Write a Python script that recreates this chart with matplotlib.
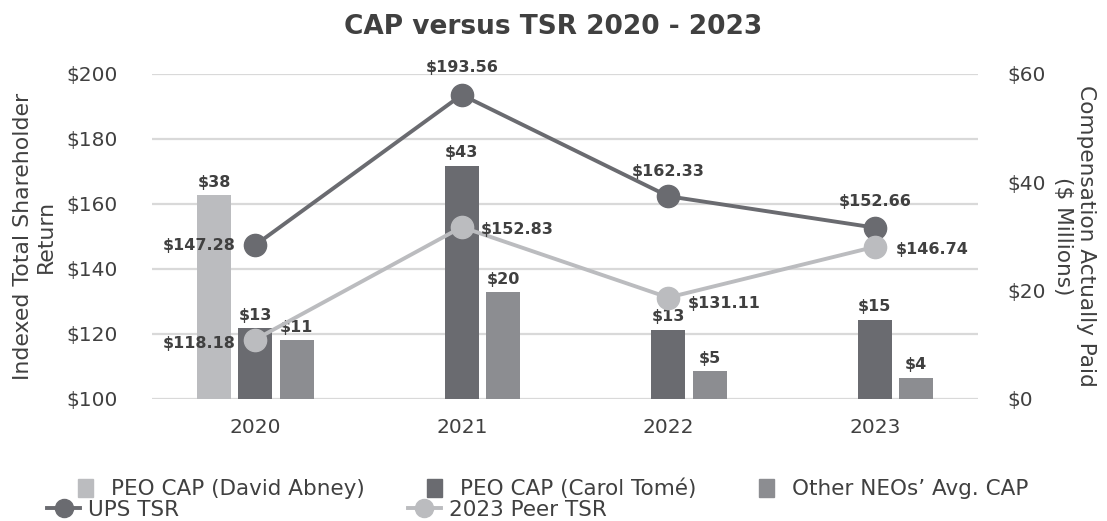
import numpy as np
import matplotlib.pyplot as plt
from matplotlib.patches import Patch
from matplotlib.lines import Line2D

# ---- data ----
years = ["2020", "2021", "2022", "2023"]
ups_tsr = [147.28, 193.56, 162.33, 152.66]
peer_tsr = [118.18, 152.83, 131.11, 146.74]
cap_abney = [37.6, np.nan, np.nan, np.nan]
cap_tome = [13.0, 43.0, 12.7, 14.6]
cap_neos = [10.8, 19.6, 5.0, 3.8]

# ---- style ----
TEXT = "#404040"
C_LIGHT = "#bbbcbf"
C_DARK = "#6a6b70"
C_MID = "#8c8d91"
C_GRID = "#d9d9d9"

plt.rcParams["font.family"] = ["DejaVu Sans"]
plt.rcParams["text.color"] = TEXT

fig = plt.figure(figsize=(11.07, 5.21), dpi=100)
ax = fig.add_axes([0.1373, 0.2351, 0.7462, 0.6229])
ax2 = ax.twinx()

x = np.arange(len(years))
width = 0.165
offsets = [-0.2, 0.0, 0.2]

# ---- bars (right axis) ----
for vals, off, col in zip([cap_abney, cap_tome, cap_neos], offsets, [C_LIGHT, C_DARK, C_MID]):
    vals = np.array(vals, dtype=float)
    m = ~np.isnan(vals)
    bars = ax2.bar(x[m] + off, vals[m], width=width, color=col, zorder=2)
    ax2.bar_label(bars, labels=[f"${v:.0f}" for v in vals[m]], padding=4,
                  fontsize=11.5, fontweight="bold", color=TEXT)

ax2.set_ylim(0, 60)
ax2.set_yticks([0, 20, 40, 60])
ax2.set_yticklabels([f"${v}" for v in [0, 20, 40, 60]])

# gridlines behind the bars
for gv in np.linspace(0, 60, 6):
    ax2.axhline(gv, color=C_GRID, lw=1.6, zorder=0)

# ---- lines (left axis) drawn on top ----
ax.set_zorder(ax2.get_zorder() + 1)
ax.patch.set_visible(False)

ax.plot(x, ups_tsr, color=C_DARK, lw=2.8, marker="o", ms=16, zorder=3)
ax.plot(x, peer_tsr, color=C_LIGHT, lw=2.8, marker="o", ms=16, zorder=3)

ups_off = [(-14, 0, "right"), (0, 19.5, "center"), (0, 18, "center"), (0, 19, "center")]
peer_off = [(-14, -3, "right"), (14, -2, "left"), (14, -4, "left"), (15, -2, "left")]
for vals, offs in [(ups_tsr, ups_off), (peer_tsr, peer_off)]:
    for xi, v, (dx, dy, ha) in zip(x, vals, offs):
        ax.annotate(f"${v:.2f}", (xi, v), xytext=(dx, dy), textcoords="offset points",
                    ha=ha, va="center", fontsize=11.5, fontweight="bold", color=TEXT,
                    zorder=5)

ax.set_xlim(-0.5, 3.5)
ax.set_ylim(100, 200)
ax.set_yticks(range(100, 201, 20))
ax.set_yticklabels([f"${v}" for v in range(100, 201, 20)])
ax.set_xticks(x)
ax.set_xticklabels(years)

for a in (ax, ax2):
    for s in a.spines.values():
        s.set_visible(False)
    a.tick_params(length=0, labelsize=14.5, colors=TEXT)
ax.tick_params(axis="y", pad=24.5)
ax.tick_params(axis="x", pad=14)
ax2.tick_params(axis="y", pad=21)

ax.set_ylabel("Indexed Total Shareholder\nReturn", fontsize=15.8, color=TEXT, labelpad=8,
              linespacing=1.15)
ax2.set_ylabel("Compensation Actually Paid\n($ Millions)", fontsize=15.6, color=TEXT,
               rotation=270, labelpad=36, linespacing=1.15)

fig.text(0.5, 1 - 27 / 521, "CAP versus TSR 2020 - 2023", ha="center", va="center",
         fontsize=19, fontweight="bold", color=TEXT)

# ---- legends ----
h1 = [Patch(color=C_LIGHT), Patch(color=C_DARK), Patch(color=C_MID)]
l1 = ["PEO CAP (David Abney)", "PEO CAP (Carol Tomé)", "Other NEOs’ Avg. CAP"]
fig.legend(h1, l1, ncol=3, loc="center left", bbox_to_anchor=(78 / 1107, 1 - 489 / 521),
           frameon=False, fontsize=15.5, borderpad=0, borderaxespad=0,
           handlelength=0.7, handleheight=0.95, handletextpad=0.84, columnspacing=2.9)

h2 = [Line2D([], [], color=C_DARK, lw=2.8, marker="o", ms=13),
      Line2D([], [], color=C_LIGHT, lw=2.8, marker="o", ms=13)]
l2 = ["UPS TSR", "2023 Peer TSR"]
fig.legend(h2, l2, ncol=2, loc="center left", bbox_to_anchor=(47 / 1107, 1 - 510 / 521),
           frameon=False, fontsize=15.5, borderpad=0, borderaxespad=0,
           handlelength=1.55, handletextpad=0.37, columnspacing=10.6)

fig.savefig("out.png", dpi=100)
